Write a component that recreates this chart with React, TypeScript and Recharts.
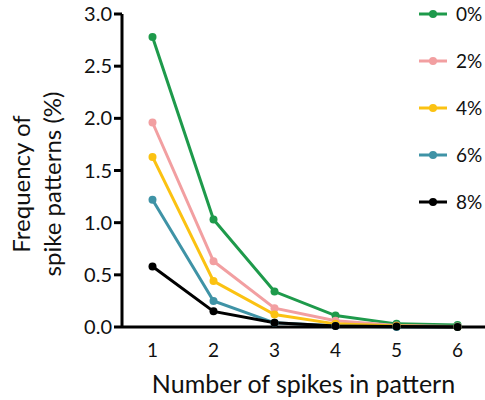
import React from "react";
import { LineChart, Line, XAxis, YAxis, Legend, Label } from "recharts";

const spikes = [1, 2, 3, 4, 5, 6];
const series0 = [2.78, 1.03, 0.34, 0.11, 0.03, 0.02];
const series2 = [1.96, 0.63, 0.18, 0.06, 0.015, 0.005];
const series4 = [1.63, 0.44, 0.12, 0.03, 0.01, 0.0];
const series6 = [1.22, 0.25, 0.04, 0.01, 0.0, 0.0];
const series8 = [0.58, 0.15, 0.04, 0.01, 0.005, 0.0];
const yTicks = [0, 0.5, 1.0, 1.5, 2.0, 2.5, 3.0];

const seriesDefs = [
  { key: "s0", name: "0%", values: series0, color: "#1e9a4b" },
  { key: "s2", name: "2%", values: series2, color: "#f29fa1" },
  { key: "s4", name: "4%", values: series4, color: "#fbc212" },
  { key: "s6", name: "6%", values: series6, color: "#3f93a6" },
  { key: "s8", name: "8%", values: series8, color: "#000000" },
];

const data = spikes.map((x, i) => {
  const row: any = { x };
  seriesDefs.forEach((s) => {
    row[s.key] = s.values[i];
  });
  return row;
});

const FONT = "Lato, 'Open Sans', sans-serif";

function LegendBox({ payload }: any) {
  return (
    <div style={{ fontFamily: FONT, fontSize: 19, color: "#111" }}>
      {(payload || []).map((p: any) => (
        <div key={p.value} style={{ display: "flex", alignItems: "center", height: 47 }}>
          <svg width={30} height={12} style={{ marginRight: 8 }}>
            <line x1={1} y1={6} x2={29} y2={6} stroke={p.color} strokeWidth={3} />
            <circle cx={15} cy={6} r={4} fill={p.color} />
          </svg>
          <span>{p.value}</span>
        </div>
      ))}
    </div>
  );
}

// two-line rotated y label
function YLabel() {
  const cy = 184;
  return (
    <text
      transform={`rotate(-90, 36, ${cy})`}
      x={36}
      y={cy}
      textAnchor="middle"
      fontFamily={FONT}
      fontSize={24}
      fill="#111"
    >
      <tspan x={36} dy={-6}>Frequency of</tspan>
      <tspan x={36} dy={31}>spike patterns (%)</tspan>
    </text>
  );
}

export default function App() {
  return (
    <div style={{ position: "absolute", left: 0, top: 0, background: "#fff" }}>
      <LineChart width={485} height={400} data={data} margin={{ top: 14, right: 0, bottom: 0, left: 0 }}>
        <XAxis
          dataKey="x"
          type="number"
          domain={[0.5, 6.45]}
          ticks={spikes}
          tickLine={false}
          axisLine={{ stroke: "#000", strokeWidth: 3 }}
          tick={{ fill: "#111", fontSize: 19, fontFamily: FONT }}
          tickMargin={11}
          height={73}
        >
          <Label
            value="Number of spikes in pattern"
            position="insideBottom"
            offset={7}
            style={{ fontFamily: FONT, fontSize: 25, fill: "#111" }}
          />
        </XAxis>
        <YAxis
          type="number"
          domain={[0, 3]}
          ticks={yTicks}
          tickFormatter={(v: number) => v.toFixed(1)}
          width={122}
          tickSize={8}
          tickMargin={2}
          tickLine={{ stroke: "#000", strokeWidth: 3 }}
          axisLine={{ stroke: "#000", strokeWidth: 3 }}
          tick={{ fill: "#111", fontSize: 20, fontFamily: FONT }}
        >
          <Label content={<YLabel />} />
        </YAxis>
        <Legend
          layout="vertical"
          align="center"
          verticalAlign="middle"
          content={<LegendBox />}
          wrapperStyle={{ left: 418, top: -10, width: 70 }}
        />
        {seriesDefs.map((s) => (
          <Line
            key={s.key}
            dataKey={s.key}
            name={s.name}
            stroke={s.color}
            strokeWidth={3}
            dot={{ r: 4, fill: s.color, stroke: s.color, strokeWidth: 0 }}
            activeDot={false}
            isAnimationActive={false}
          />
        ))}
      </LineChart>
    </div>
  );
}
